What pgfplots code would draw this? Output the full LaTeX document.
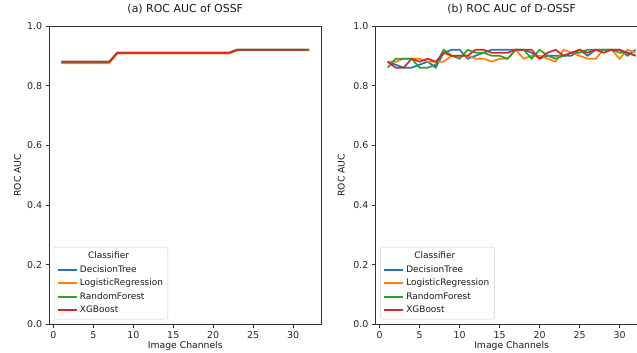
\documentclass[border=0pt]{standalone}
\usepackage{fontspec}
\setmainfont{DejaVu Sans}
\usepackage{pgfplots}
\usepackage{pgfplotstable}
\pgfplotsset{compat=1.18}
\definecolor{tabblue}{HTML}{1F77B4}
\definecolor{taborange}{HTML}{FF7F0E}
\definecolor{tabgreen}{HTML}{2CA02C}
\definecolor{tabred}{HTML}{D62728}

\pgfplotstableread{
x dt lr rf xgb
1 0.88 0.875 0.88 0.88
2 0.88 0.875 0.88 0.88
3 0.88 0.875 0.88 0.88
4 0.88 0.875 0.88 0.88
5 0.88 0.875 0.88 0.88
6 0.88 0.875 0.88 0.88
7 0.88 0.875 0.88 0.88
8 0.91 0.907 0.91 0.91
9 0.91 0.907 0.91 0.91
10 0.91 0.907 0.91 0.91
11 0.91 0.907 0.91 0.91
12 0.91 0.907 0.91 0.91
13 0.91 0.907 0.91 0.91
14 0.91 0.907 0.91 0.91
15 0.91 0.907 0.91 0.91
16 0.91 0.907 0.91 0.91
17 0.91 0.907 0.91 0.91
18 0.91 0.907 0.91 0.91
19 0.91 0.907 0.91 0.91
20 0.91 0.907 0.91 0.91
21 0.91 0.907 0.91 0.91
22 0.91 0.907 0.91 0.91
23 0.92 0.918 0.92 0.92
24 0.92 0.918 0.92 0.92
25 0.92 0.918 0.92 0.92
26 0.92 0.918 0.92 0.92
27 0.92 0.918 0.92 0.92
28 0.92 0.918 0.92 0.92
29 0.92 0.918 0.92 0.92
30 0.92 0.918 0.92 0.92
31 0.92 0.918 0.92 0.92
32 0.92 0.918 0.92 0.92
}\ossf

\pgfplotstableread{
x dt lr rf xgb
1 0.88 0.88 0.86 0.88
2 0.87 0.88 0.89 0.86
3 0.86 0.89 0.89 0.86
4 0.86 0.89 0.89 0.89
5 0.87 0.89 0.86 0.88
6 0.88 0.88 0.86 0.89
7 0.86 0.88 0.87 0.88
8 0.91 0.88 0.92 0.91
9 0.92 0.90 0.90 0.90
10 0.92 0.90 0.89 0.90
11 0.89 0.90 0.92 0.90
12 0.90 0.89 0.91 0.92
13 0.91 0.89 0.91 0.92
14 0.92 0.88 0.90 0.91
15 0.92 0.89 0.90 0.91
16 0.92 0.89 0.89 0.91
17 0.92 0.92 0.92 0.92
18 0.92 0.89 0.92 0.92
19 0.91 0.90 0.89 0.92
20 0.89 0.90 0.92 0.89
21 0.90 0.89 0.90 0.91
22 0.90 0.88 0.89 0.92
23 0.90 0.92 0.90 0.90
24 0.90 0.91 0.91 0.91
25 0.92 0.90 0.91 0.92
26 0.90 0.89 0.92 0.91
27 0.92 0.89 0.92 0.92
28 0.92 0.92 0.92 0.91
29 0.92 0.92 0.92 0.92
30 0.92 0.89 0.91 0.92
31 0.90 0.92 0.91 0.91
32 0.92 0.91 0.90 0.90
}\dossf

\pgfplotsset{
  myax/.style={
    scale only axis, width=274pt, height=300pt,
    xmin=-0.55, xmax=33.55, ymin=0, ymax=1,
    xtick={0,5,10,15,20,25,30},
    ytick={0,0.2,0.4,0.6,0.8,1.0},
    y tick label style={/pgf/number format/.cd, fixed, fixed zerofill, precision=1, /tikz/.cd},
    /pgf/number format/assume math mode=true,
    tick pos=left, tick align=outside, major tick length=3.3pt,
    every tick/.style={black!80, line width=0.7pt},
    axis line style={black!80, line width=0.7pt},
    tick label style={font=\fontsize{9.5}{10}\selectfont, text=black!85},
    xlabel={Image Channels}, ylabel={ROC AUC},
    label style={font=\fontsize{9.3}{11}\selectfont, text=black!90},
    title style={font=\fontsize{11}{12}\selectfont, text=black!90, at={(axis description cs:0.5,1.037)}, anchor=center, yshift=0pt},
    xlabel style={at={(axis description cs:0.5,-0.072)}, anchor=center},
    ylabel style={at={(axis description cs:-0.115,0.5)}, anchor=center},
    legend style={at={(axis description cs:0.018,0.017)}, anchor=south west,
      draw=black!20, rounded corners=2pt, fill=white, fill opacity=0.8, text opacity=1,
      font=\fontsize{9}{10}\selectfont, text=black!90, row sep=1.2pt, inner sep=3pt},
    legend cell align=left,
    legend image code/.code={\draw[##1, line width=2pt] (0pt,0pt) -- (19pt,0pt);},
    every axis plot/.append style={line width=1.7pt},
  }
}

\newlength\lrw
\begin{document}
\settowidth\lrw{\fontsize{9}{10}\selectfont LogisticRegression}
\begin{tikzpicture}
\begin{axis}[myax, at={(46pt,28pt)}, title={(a) ROC AUC of OSSF}]
\addlegendimage{empty legend}
\addlegendentry{\makebox[\lrw][c]{\hspace*{-26pt}Classifier}}
\addplot[tabblue, no marks] table[x=x, y=dt] {\ossf};
\addlegendentry{DecisionTree}
\addplot[taborange, no marks] table[x=x, y=lr] {\ossf};
\addlegendentry{LogisticRegression}
\addplot[tabgreen, no marks] table[x=x, y=rf] {\ossf};
\addlegendentry{RandomForest}
\addplot[tabred, no marks] table[x=x, y=xgb] {\ossf};
\addlegendentry{XGBoost}
\end{axis}
\begin{axis}[myax, at={(374pt,28pt)}, title={(b) ROC AUC of D-OSSF}, ylabel style={at={(axis description cs:-0.125,0.5)}}]
\addlegendimage{empty legend}
\addlegendentry{\makebox[\lrw][c]{\hspace*{-26pt}Classifier}}
\addplot[tabblue, no marks] table[x=x, y=dt] {\dossf};
\addlegendentry{DecisionTree}
\addplot[taborange, no marks] table[x=x, y=lr] {\dossf};
\addlegendentry{LogisticRegression}
\addplot[tabgreen, no marks] table[x=x, y=rf] {\dossf};
\addlegendentry{RandomForest}
\addplot[tabred, no marks] table[x=x, y=xgb] {\dossf};
\addlegendentry{XGBoost}
\end{axis}
\pgfresetboundingbox
\useasboundingbox (0,0) rectangle (637pt,354pt);
\end{tikzpicture}
\end{document}
